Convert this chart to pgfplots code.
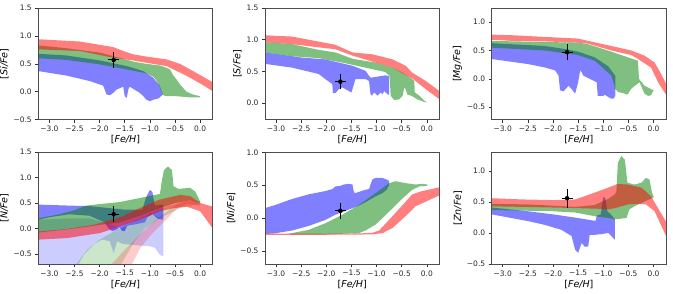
\documentclass[border=0pt]{standalone}
\usepackage{fontspec}
\setmainfont{DejaVu Sans}
\usepackage{pgfplots}
\pgfplotsset{compat=1.18}
\definecolor{mgreen}{rgb}{0,0.5,0}
\pgfplotsset{
 panel/.style={scale only axis, width=174.4pt, height=111.7pt, anchor=south west,
   xmin=-3.22, xmax=0.25,
   xtick={-3,-2.5,-2,-1.5,-1,-0.5,0},
   xticklabels={−3.0,−2.5,−2.0,−1.5,−1.0,−0.5,0.0},
   tick align=outside, tick pos=left, major tick length=3pt,
   every tick/.style={black!80, line width=0.6pt},
   axis line style={line width=0.6pt, black!70},
   ticklabel style={font=\fontsize{7.5}{8}\selectfont, text=black!85},
   label style={font=\fontsize{9.5}{10}\selectfont},
   xlabel={{[}\textit{Fe/H}{]}},
   xlabel style={yshift=3pt}, ylabel style={yshift=-2pt},
   axis on top},
 B/.style={draw=none, fill=blue, fill opacity=0.5},
 G/.style={draw=none, fill=mgreen, fill opacity=0.5},
 R/.style={draw=none, fill=red, fill opacity=0.5},
 LB/.style={draw=none, fill=blue, fill opacity=0.2},
 LG/.style={draw=none, fill=mgreen, fill opacity=0.2},
 LR/.style={draw=none, fill=red, fill opacity=0.2},
 obs/.style={black, mark=*, mark size=2pt, only marks,
   error bars/.cd, x dir=both, x explicit, y dir=both, y explicit,
   error mark=none, error bar style={line width=1pt, black}},
}
\begin{document}
\begin{tikzpicture}
\path[use as bounding box] (0,0) rectangle (673pt,294pt);
% ---------------- Si
\begin{axis}[panel, at={(38.3pt,174.3pt)}, ymin=-0.5, ymax=1.5,
  ytick={-0.5,0,0.5,1,1.5}, yticklabels={−0.5,0.0,0.5,1.0,1.5},
  ylabel={{[}\textit{Si/Fe}{]}}]
\addplot[B] coordinates {(-3.22,0.68) (-2.66,0.65) (-1.99,0.56) (-1.46,0.46) (-1.13,0.37) (-0.93,0.25) (-0.80,0.10) (-0.74,-0.05) (-0.83,-0.12) (-0.93,-0.14) (-1.00,-0.17) (-1.07,-0.14) (-1.13,-0.08) (-1.20,-0.02) (-1.40,0.09) (-1.43,0.04) (-1.46,-0.11) (-1.50,-0.08) (-1.53,0.09) (-1.66,0.04) (-1.73,-0.02) (-1.79,-0.06) (-1.86,-0.05) (-1.93,0.11) (-2.19,0.19) (-2.66,0.29) (-3.22,0.37)};
\addplot[G] coordinates {(-3.22,0.83) (-2.66,0.78) (-1.99,0.70) (-1.73,0.64) (-1.33,0.54) (-1.07,0.50) (-0.80,0.47) (-0.67,0.43) (-0.60,0.40) (-0.54,0.30) (-0.47,0.22) (-0.40,0.13) (-0.27,0.0) (-0.14,-0.05) (0.0,-0.08) (0.0,-0.10) (-0.20,-0.10) (-0.47,-0.08) (-0.67,-0.08) (-0.74,-0.06) (-0.77,0.0) (-0.80,0.08) (-0.87,0.20) (-0.93,0.27) (-1.07,0.33) (-1.46,0.40) (-1.99,0.49) (-2.66,0.57) (-3.22,0.60)};
\addplot[R] coordinates {(-3.22,0.94) (-2.39,0.90) (-1.73,0.80) (-1.5,0.72) (-1.33,0.67) (-1.07,0.63) (-0.67,0.58) (-0.4,0.50) (-0.2,0.40) (0.0,0.30) (0.25,0.17) (0.25,0.01) (0.0,0.15) (-0.3,0.30) (-0.67,0.46) (-1.07,0.52) (-1.33,0.56) (-1.73,0.61) (-2.39,0.73) (-3.22,0.76)};
\addplot[obs] coordinates {(-1.72,0.57) +- (0.11,0.14)};
\end{axis}
% ---------------- S
\begin{axis}[panel, at={(265pt,174.3pt)}, ymin=-0.26, ymax=1.5,
  ytick={0,0.5,1,1.5}, yticklabels={0.0,0.5,1.0,1.5},
  ylabel={{[}\textit{S/Fe}{]}}]
\addplot[B] coordinates {(-3.22,0.80) (-2.5,0.72) (-2.02,0.69) (-1.48,0.59) (-1.22,0.51) (-1.12,0.40) (-0.82,0.44) (-0.75,0.42) (-0.75,0.13) (-0.78,0.14) (-0.82,0.17) (-0.85,0.19) (-0.88,0.14) (-0.92,0.17) (-0.98,0.12) (-1.05,0.17) (-1.09,0.12) (-1.12,0.14) (-1.15,0.35) (-1.22,0.38) (-1.42,0.38) (-1.45,0.30) (-1.50,0.17) (-1.55,0.19) (-1.68,0.25) (-1.75,0.22) (-1.82,0.16) (-1.87,0.16) (-1.88,0.30) (-2.02,0.38) (-2.15,0.46) (-2.68,0.56) (-3.22,0.62)};
\addplot[G] coordinates {(-3.22,0.96) (-2.68,0.93) (-2.15,0.84) (-1.82,0.80) (-1.48,0.70) (-1.02,0.64) (-0.68,0.56) (-0.48,0.48) (-0.29,0.38) (-0.25,0.35) (-0.24,0.17) (-0.15,0.12) (-0.05,0.04) (0.01,0.01) (-0.05,0.02) (-0.19,0.06) (-0.29,0.11) (-0.39,0.14) (-0.42,0.22) (-0.45,0.25) (-0.48,0.12) (-0.55,0.06) (-0.65,0.05) (-0.72,0.12) (-0.74,0.42) (-0.82,0.49) (-1.22,0.56) (-1.68,0.64) (-2.15,0.71) (-2.68,0.74) (-3.22,0.80)};
\addplot[R] coordinates {(-3.22,1.07) (-2.68,1.05) (-2.15,0.97) (-1.82,0.92) (-1.48,0.80) (-1.08,0.77) (-0.68,0.69) (-0.42,0.59) (-0.29,0.48) (-0.02,0.35) (0.27,0.18) (0.27,0.05) (-0.02,0.22) (-0.29,0.39) (-0.48,0.47) (-0.68,0.56) (-1.02,0.64) (-1.48,0.75) (-1.82,0.85) (-2.15,0.88) (-2.68,0.93) (-3.22,0.96)};
\addplot[obs] coordinates {(-1.72,0.34) +- (0.11,0.12)};
\end{axis}
% ---------------- Mg
\begin{axis}[panel, at={(491.7pt,174.3pt)}, ymin=-0.72, ymax=1.25,
  ytick={-0.5,0,0.5,1}, yticklabels={−0.5,0.0,0.5,1.0},
  ylabel={{[}\textit{Mg/Fe}{]}}]
\addplot[B] coordinates {(-3.22,0.63) (-2.16,0.58) (-1.72,0.52) (-1.50,0.48) (-1.17,0.38) (-0.90,0.22) (-0.80,0.10) (-0.76,0.05) (-0.76,-0.30) (-0.80,-0.35) (-0.84,-0.35) (-0.90,-0.32) (-0.97,-0.28) (-1.00,-0.30) (-1.11,-0.30) (-1.13,-0.06) (-1.40,0.06) (-1.43,0.12) (-1.46,0.15) (-1.50,-0.06) (-1.56,-0.26) (-1.63,-0.18) (-1.69,-0.12) (-1.79,-0.22) (-1.86,-0.20) (-1.89,0.06) (-1.96,0.15) (-2.16,0.20) (-2.49,0.26) (-3.22,0.35)};
\addplot[G] coordinates {(-3.22,0.67) (-2.16,0.65) (-1.50,0.64) (-1.30,0.61) (-0.84,0.48) (-0.51,0.38) (-0.31,0.32) (-0.29,0.0) (-0.18,-0.12) (-0.05,-0.18) (0.0,-0.20) (-0.05,-0.29) (-0.11,-0.30) (-0.18,-0.26) (-0.28,-0.06) (-0.44,-0.17) (-0.52,-0.28) (-0.57,-0.26) (-0.71,-0.23) (-0.76,-0.18) (-0.84,0.06) (-1.17,0.32) (-1.50,0.42) (-2.16,0.50) (-3.22,0.55)};
\addplot[R] coordinates {(-3.22,0.78) (-2.82,0.77) (-2.16,0.74) (-1.50,0.71) (-1.30,0.67) (-0.84,0.58) (-0.44,0.50) (-0.18,0.41) (0.02,0.29) (0.15,0.09) (0.25,-0.09) (0.25,-0.28) (0.09,-0.06) (-0.05,0.20) (-0.31,0.35) (-0.44,0.42) (-0.84,0.50) (-1.30,0.62) (-1.50,0.64) (-2.16,0.66) (-2.82,0.67) (-3.22,0.69)};
\addplot[obs] coordinates {(-1.72,0.47) +- (0.11,0.14)};
\end{axis}
% ---------------- N
\begin{axis}[panel, at={(38.3pt,30pt)}, ymin=-0.7, ymax=1.5,
  ytick={-0.5,0,0.5,1,1.5}, yticklabels={−0.5,0.0,0.5,1.0,1.5},
  ylabel={{[}\textit{N/Fe}{]}}]
\addplot[LB] coordinates {(-3.22,0.17) (-2.6,0.20) (-2.2,0.20) (-1.85,0.10) (-1.6,0.0) (-1.3,0.08) (-1.1,0.12) (-1.0,0.30) (-0.9,0.25) (-0.73,0.17) (-0.73,-0.55) (-0.80,-0.52) (-0.90,-0.38) (-1.0,-0.35) (-1.3,-0.33) (-1.55,-0.30) (-1.65,-0.25) (-1.72,-0.48) (-1.80,-0.25) (-1.95,-0.22) (-2.1,-0.30) (-2.3,-0.50) (-2.45,-0.75) (-3.22,-0.75)};
\addplot[LG] coordinates {(-2.5,-0.75) (-2.25,-0.42) (-2.0,-0.22) (-1.7,-0.05) (-1.4,0.10) (-1.0,0.30) (-0.6,0.45) (-0.2,0.55) (0.0,0.55) (0.0,0.48) (-0.4,0.40) (-0.8,0.20) (-1.1,0.0) (-1.3,-0.25) (-1.45,-0.5) (-1.6,-0.75)};
\addplot[LR] coordinates {(-1.80,-0.75) (-1.5,-0.42) (-1.2,-0.12) (-0.9,0.15) (-0.6,0.38) (-0.4,0.52) (-0.2,0.57) (0.0,0.50) (0.0,0.45) (-0.25,0.48) (-0.45,0.40) (-0.7,0.15) (-1.0,-0.15) (-1.2,-0.40) (-1.38,-0.75)};
\addplot[B] coordinates {(-3.22,0.47) (-2.6,0.45) (-2.2,0.44) (-1.8,0.40) (-1.5,0.37) (-1.15,0.37) (-1.08,0.60) (-1.0,0.76) (-0.95,0.72) (-0.9,0.45) (-0.8,0.47) (-0.73,0.47) (-0.73,0.17) (-0.85,0.20) (-0.95,0.28) (-1.05,0.22) (-1.1,0.12) (-1.3,0.08) (-1.45,0.05) (-1.5,-0.05) (-1.55,-0.05) (-1.6,0.02) (-1.68,-0.03) (-1.75,-0.05) (-1.82,0.0) (-1.9,0.12) (-2.2,0.25) (-2.6,0.28) (-3.0,0.22) (-3.22,0.17)};
\addplot[G] coordinates {(-3.22,0.20) (-2.8,0.28) (-2.5,0.36) (-2.27,0.45) (-2.0,0.48) (-1.6,0.52) (-1.2,0.60) (-0.8,0.68) (-0.76,0.95) (-0.72,1.15) (-0.64,1.22) (-0.56,1.15) (-0.53,0.83) (-0.43,0.78) (-0.2,0.80) (-0.1,0.73) (0.0,0.53) (0.0,0.50) (-0.2,0.56) (-0.5,0.50) (-0.8,0.40) (-1.2,0.25) (-1.6,0.12) (-2.0,0.07) (-2.5,0.0) (-3.22,-0.08)};
\addplot[R] coordinates {(-3.22,-0.06) (-2.65,-0.01) (-2.12,0.07) (-1.59,0.22) (-1.20,0.40) (-0.80,0.57) (-0.40,0.66) (-0.20,0.64) (0.0,0.50) (0.25,0.43) (0.25,0.0) (0.0,0.34) (-0.27,0.43) (-0.53,0.40) (-0.80,0.34) (-1.20,0.17) (-1.59,0.04) (-1.99,-0.09) (-2.65,-0.19) (-3.22,-0.22)};
\addplot[obs] coordinates {(-1.72,0.28) +- (0.11,0.16)};
\end{axis}
% ---------------- Ni
\begin{axis}[panel, at={(265pt,30pt)}, ymin=-0.7, ymax=1.0,
  ytick={-0.5,0,0.5,1}, yticklabels={−0.5,0.0,0.5,1.0},
  ylabel={{[}\textit{Ni/Fe}{]}}]
\addplot[B] coordinates {(-3.22,0.15) (-3.01,0.20) (-2.68,0.29) (-2.35,0.36) (-2.02,0.41) (-1.88,0.44) (-1.82,0.48) (-1.72,0.49) (-1.65,0.51) (-1.55,0.52) (-1.48,0.51) (-1.45,0.39) (-1.42,0.38) (-1.22,0.43) (-1.15,0.44) (-1.12,0.51) (-1.08,0.59) (-1.02,0.61) (-0.88,0.61) (-0.78,0.58) (-0.75,0.56) (-0.75,0.50) (-0.80,0.43) (-0.88,0.38) (-1.02,0.33) (-1.22,0.24) (-1.35,0.19) (-1.68,0.09) (-1.82,0.05) (-2.02,-0.03) (-2.35,-0.12) (-2.68,-0.19) (-3.0,-0.23) (-3.22,-0.24)};
\addplot[G] coordinates {(-2.75,-0.24) (-2.35,-0.18) (-2.02,-0.08) (-1.68,0.05) (-1.35,0.20) (-1.02,0.38) (-0.75,0.53) (-0.62,0.56) (-0.42,0.53) (-0.22,0.51) (-0.09,0.52) (0.01,0.51) (0.01,0.49) (-0.15,0.48) (-0.29,0.43) (-0.48,0.30) (-0.68,0.15) (-0.88,0.0) (-1.02,-0.10) (-1.22,-0.19) (-1.35,-0.23) (-2.02,-0.25) (-2.68,-0.25)};
\addplot[R] coordinates {(-3.22,-0.235) (-2.02,-0.24) (-1.35,-0.235) (-1.08,-0.225) (-0.95,-0.19) (-0.68,0.03) (-0.42,0.25) (-0.29,0.36) (-0.09,0.41) (0.27,0.47) (0.27,0.35) (-0.02,0.25) (-0.22,0.18) (-0.42,0.03) (-0.68,-0.15) (-0.88,-0.23) (-1.08,-0.25) (-2.02,-0.255) (-3.22,-0.255)};
\addplot[obs] coordinates {(-1.72,0.11) +- (0.11,0.12)};
\end{axis}
% ---------------- Zn
\begin{axis}[panel, at={(491.7pt,30pt)}, ymin=-0.5, ymax=1.3,
  ytick={-0.5,0,0.5,1}, yticklabels={−0.5,0.0,0.5,1.0},
  ylabel={{[}\textit{Zn/Fe}{]}}]
\addplot[B] coordinates {(-3.22,0.41) (-2.5,0.35) (-2.0,0.30) (-1.5,0.24) (-1.2,0.20) (-1.15,0.20) (-1.13,0.28) (-1.05,0.30) (-1.0,0.58) (-0.96,0.56) (-0.92,0.35) (-0.85,0.30) (-0.77,0.22) (-0.77,-0.11) (-0.85,-0.04) (-0.90,0.0) (-1.05,-0.02) (-1.17,-0.03) (-1.27,-0.03) (-1.30,-0.22) (-1.37,-0.22) (-1.43,-0.16) (-1.50,-0.32) (-1.56,-0.27) (-1.63,-0.05) (-1.83,0.05) (-2.16,0.13) (-2.49,0.19) (-3.22,0.30)};
\addplot[G] coordinates {(-3.22,0.47) (-2.5,0.46) (-2.0,0.44) (-1.56,0.42) (-1.17,0.45) (-0.9,0.55) (-0.77,0.62) (-0.74,0.67) (-0.71,1.13) (-0.64,1.24) (-0.57,1.18) (-0.52,0.81) (-0.38,0.78) (-0.24,0.81) (-0.15,0.89) (-0.08,0.86) (-0.03,0.65) (0.0,0.59) (0.0,0.57) (-0.2,0.50) (-0.38,0.43) (-0.48,0.38) (-0.54,0.24) (-0.77,0.22) (-0.90,0.24) (-1.17,0.27) (-1.56,0.33) (-2.0,0.35) (-2.6,0.36) (-3.22,0.37)};
\addplot[R] coordinates {(-3.22,0.56) (-2.6,0.54) (-2.0,0.53) (-1.56,0.54) (-1.17,0.65) (-0.97,0.71) (-0.71,0.79) (-0.51,0.78) (-0.24,0.73) (-0.05,0.59) (0.09,0.40) (0.25,0.18) (0.25,-0.05) (0.02,0.35) (-0.15,0.46) (-0.31,0.47) (-0.51,0.46) (-0.77,0.40) (-0.90,0.38) (-1.1,0.39) (-1.5,0.40) (-2.0,0.41) (-2.6,0.42) (-3.22,0.43)};
\addplot[obs] coordinates {(-1.72,0.56) +- (0.11,0.15)};
\end{axis}
\end{tikzpicture}
\end{document}
